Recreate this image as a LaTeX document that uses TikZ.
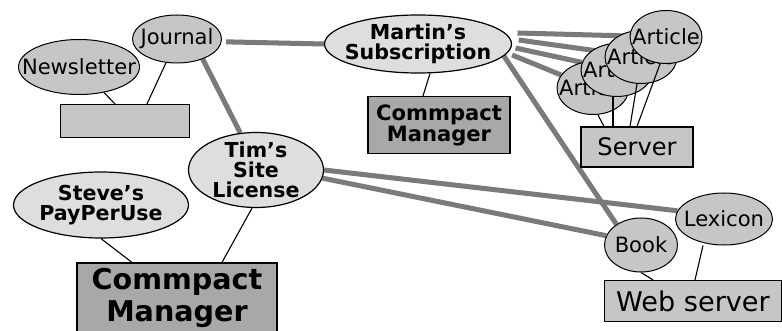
\documentclass[tikz,border=0pt]{standalone}
\usepackage{fontspec}
\setmainfont{DejaVu Sans}
\usepackage{tikz}
\usetikzlibrary{shapes,positioning}
\pgfdeclarelayer{background}
\pgfsetlayers{background,main}
\definecolor{mediagray}{RGB}{198,198,198}
\definecolor{dealgray}{RGB}{222,222,222}
\definecolor{managergray}{RGB}{168,168,168}
\definecolor{linkgray}{RGB}{122,122,122}
\tikzset{dims/.style 2 args={minimum width=#1cm, minimum height=#2cm}}
\tikzstyle{media} = [draw, ellipse, fill=mediagray, inner sep=-30pt, line width=1pt, font=\fontsize{21}{22}\selectfont]
\tikzstyle{deal} = [draw, ellipse, fill=dealgray, inner sep=-30pt, line width=1.2pt, align=center, font=\fontsize{20.5}{20}\selectfont\bfseries]
\tikzstyle{host} = [draw, fill=mediagray, inner sep=2pt, line width=1.2pt, font=\fontsize{21}{22}\selectfont]
\tikzstyle{manager} = [draw, fill=managergray, inner sep=2pt, line width=1.2pt, align=center, font=\fontsize{21}{21}\selectfont\bfseries]
\tikzstyle{link} = [draw, line width=5pt, color=linkgray]
\tikzstyle{line} = [draw, line width=1.1pt]
\newcommand{\media}[3]{node (m#1) [media,#2] {#3}}
\newcommand{\deal}[3]{node (d#1) [deal,#2] {#3}}
\newcommand{\host}[3]{node (h#1) [host,#2] {#3}}
\newcommand{\manager}[3]{node (c#1) [manager,#2] {#3}}

\begin{document}
\begin{tikzpicture}
\useasboundingbox (0,0) rectangle (27.37,-11.585);
\path (2.765,-2.345) \media{1}{dims={4.235}{1.925}}{Newsletter};
\path (m1)+(3.43,0.98) \media{2}{dims={3.115}{1.68}}{Journal};
\path (m1)+(1.61,-1.89) \host{1}{dims={4.515}{1.155}}{};
\path [line] (m1) -- ([xshift=-0.35cm]h1.north);
\path [line] (m2) -- ([xshift=0.77cm]h1.north);

\path (m2)+(8.435,-0.175) \deal{1}{dims={6.545}{2.03}}{Martin’s\\Subscription};
\path (d1)+(0.735,-2.835) \manager{1}{dims={4.97}{1.995}}{Commpact\\Manager};
\path [line] ([xshift=0.42cm]d1.south) -- ([xshift=-0.56cm]c1.north);

\path (d1)+(6.125,-1.54) \media{3}{dims={2.52}{1.855}}{Article};
\path (m3)+(0.84,0.63) \media{4}{dims={2.52}{1.855}}{Article};
\path (m4)+(0.84,0.455) \media{5}{dims={2.52}{1.855}}{Article};
\path (m5)+(0.875,0.7) \media{6}{dims={2.52}{1.855}}{Article};
\path (m3)+(1.54,-2.065) \host{2}{dims={3.92}{1.4}, font=\fontsize{24}{26}\selectfont}{Server};
\path [line] ([xshift=0.175cm]m3.south) -- ([xshift=-1.155cm]h2.north);
\path [line] ([xshift=-0.14cm]m4.south) -- ([xshift=-0.84cm]h2.north);
\path [line] ([xshift=-0.14cm]m5.south) -- ([xshift=-0.245cm]h2.north);
\path [line] ([xshift=-0.21cm]m6.south) -- (h2.north);

\path (m2)+(2.765,-4.585) \deal{2}{dims={4.725}{2.625}}{Tim’s\\Site\\License};
\path (d2)+(-5.425,-1.225) \deal{3}{dims={6.125}{2.31}}{Steve’s\\PayPerUse};
\path (d2)+(-2.765,-4.48) \manager{2}{dims={7}{2.45}, font=\fontsize{28.5}{31}\selectfont\bfseries}{Commpact\\Manager};
\path [line] ([xshift=-0.14cm]d2.south) -- ([xshift=1.575cm]c2.north);
\path [line] (d3.south) -- ([xshift=-1.575cm]c2.north);

\path (d2)+(13.475,-2.625) \media{7}{dims={2.555}{1.89}}{Book};
\path (m7)+(2.905,0.91) \media{8}{dims={3.395}{1.82}}{Lexicon};
\path (m7)+(1.82,-1.96) \host{3}{dims={6.195}{1.435}, font=\fontsize{27}{29}\selectfont}{Web server};
\path [line] (m7.south) -- ([xshift=-1.4cm]h3.north);
\path [line] ([xshift=-0.735cm]m8.south) -- ([xshift=0.07cm]h3.north);

\begin{pgfonlayer}{background}
\path [link] ([shift={(0.14,-0.1)}]m2.east) -- (d1.west);
\path [link] (m2.-38) -- (d2.113);
\path [link] ([shift={(0.19,0.385)}]d1.east) -- (m6);
\path [link] ([shift={(0.23,0.14)}]d1.east) -- (m5);
\path [link] ([shift={(0.12,-0.14)}]d1.east) -- (m4);
\path [link] ([shift={(0,-0.385)}]d1.east) -- (m3);
\path [link] (d1.-8) -- (m7.140);
\path [link] (d2.east) -- (m8.170);
\path [link] (d2.-7) -- (m7.165);
\end{pgfonlayer}
\end{tikzpicture}
\end{document}
